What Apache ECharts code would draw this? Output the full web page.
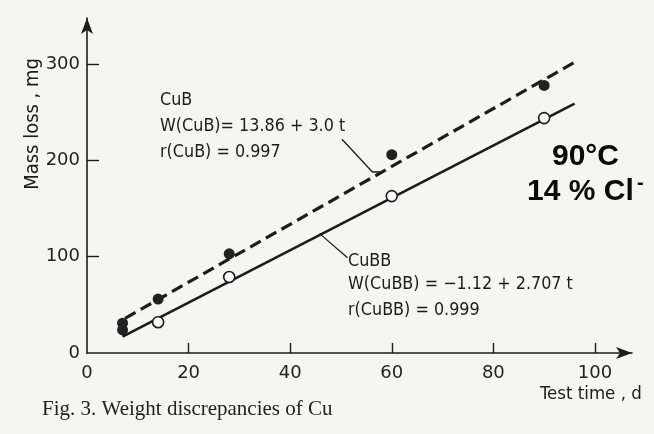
<!DOCTYPE html>
<html>
<head>
<meta charset="utf-8">
<script src="https://cdn.jsdelivr.net/npm/echarts@6/dist/echarts.min.js"></script>
<style>
  html, body { margin: 0; padding: 0; background: #f5f5f3; }
  #chart { width: 654px; height: 434px; }
</style>
</head>
<body>
<div id="chart"></div>
<script>
  // measured points (test time in days, mass loss in mg)
  var cubPoints = [[7, 31], [7, 24], [14, 56], [28, 103], [60, 206], [90, 278]];
  var cubbPoints = [[14, 32], [28, 79], [60, 163], [90, 244]];

  // regression lines, end points
  var cubLine = [[7.5, 36], [96, 302]];
  var cubbLine = [[7, 17], [96, 259]];

  // leader lines from the labels to the fitted lines
  var cubLeader = [[50.2, 222], [56.2, 188], [58.2, 188]];
  var cubbLeader = [[45.8, 124], [51.3, 99]];

  var xTicks = [0, 20, 40, 60, 80, 100];
  var yTicks = [0, 100, 200, 300];

  var ink = '#1c1c1c';
  var thinFont = 'DejaVu Sans Condensed, DejaVu Sans, sans-serif';

  var chart = echarts.init(document.getElementById('chart'));

  function textEl(left, top, str, size) {
    return {
      type: 'text',
      left: left,
      top: top,
      style: {
        text: str,
        fill: ink,
        font: '300 ' + (size || 17.8) + 'px ' + thinFont
      }
    };
  }

  chart.setOption({
    backgroundColor: '#f5f5f3',
    animation: false,
    grid: {
      left: 87,
      right: 22,
      top: 18,
      bottom: 81
    },
    xAxis: {
      type: 'value',
      min: 0,
      max: 107.3,
      splitLine: { show: false },
      axisLine: {
        lineStyle: { color: ink, width: 1.6 },
        symbol: ['none', 'arrow'],
        symbolSize: [9, 16],
        symbolOffset: [0, 0]
      },
      axisTick: {
        inside: true,
        length: 10,
        customValues: xTicks.slice(1),
        lineStyle: { color: ink, width: 1.4 }
      },
      axisLabel: {
        customValues: xTicks,
        margin: 11,
        color: '#222',
        fontFamily: 'DejaVu Sans',
        fontSize: 18
      }
    },
    yAxis: {
      type: 'value',
      min: 0,
      max: 348,
      splitLine: { show: false },
      axisLine: {
        show: true,
        lineStyle: { color: ink, width: 1.6 },
        symbol: ['none', 'arrow'],
        symbolSize: [9, 16],
        symbolOffset: [0, 0]
      },
      axisTick: {
        show: true,
        inside: true,
        length: 12,
        customValues: yTicks.slice(1),
        lineStyle: { color: ink, width: 1.4 }
      },
      axisLabel: {
        customValues: yTicks,
        margin: 7,
        color: '#222',
        fontFamily: 'DejaVu Sans',
        fontSize: 18
      }
    },
    series: [
      {
        name: 'CuB fit',
        type: 'line',
        data: cubLine,
        symbol: 'none',
        lineStyle: { color: ink, width: 3.2, type: [12, 6] },
        z: 2
      },
      {
        name: 'CuBB fit',
        type: 'line',
        data: cubbLine,
        symbol: 'none',
        lineStyle: { color: ink, width: 2.6 },
        z: 2
      },
      {
        name: 'CuB leader',
        type: 'line',
        data: cubLeader,
        symbol: 'none',
        lineStyle: { color: ink, width: 1.3 },
        z: 2
      },
      {
        name: 'CuBB leader',
        type: 'line',
        data: cubbLeader,
        symbol: 'none',
        lineStyle: { color: ink, width: 1.3 },
        z: 2
      },
      {
        name: 'CuB',
        type: 'scatter',
        data: cubPoints,
        symbolSize: 11,
        itemStyle: { color: '#222', opacity: 1 },
        z: 3
      },
      {
        name: 'CuBB',
        type: 'scatter',
        data: cubbPoints,
        symbolSize: 11,
        itemStyle: { color: '#fafafa', borderColor: ink, borderWidth: 1.6, opacity: 1 },
        z: 3
      }
    ],
    graphic: [
      {
        type: 'text',
        left: 23,
        top: 58,
        rotation: Math.PI / 2,
        style: {
          text: 'Mass loss , mg',
          fill: ink,
          font: '300 20px ' + thinFont
        }
      },
      textEl(160, 91, 'CuB'),
      textEl(160, 117, 'W(CuB)= 13.86 + 3.0 t'),
      textEl(160, 143, 'r(CuB) = 0.997'),
      textEl(348, 252, 'CuBB'),
      textEl(348, 275, 'W(CuBB) = \u22121.12 + 2.707 t'),
      textEl(348, 301, 'r(CuBB) = 0.999'),
      textEl(540, 385, 'Test time , d', 18.5),
      {
        type: 'text',
        left: 42,
        top: 399,
        style: {
          text: 'Fig. 3. Weight discrepancies of Cu',
          fill: '#222',
          font: '21px Liberation Serif, serif'
        }
      },
      {
        type: 'text',
        left: 552,
        top: 142,
        style: {
          text: '90\u00b0C',
          fill: '#0a0a0a',
          font: 'bold 30px Liberation Sans, Arial, sans-serif'
        }
      },
      {
        type: 'text',
        left: 527,
        top: 177,
        style: {
          text: '14 % Cl',
          fill: '#0a0a0a',
          font: 'bold 30px Liberation Sans, Arial, sans-serif'
        }
      },
      {
        type: 'text',
        left: 637,
        top: 173,
        style: {
          text: '-',
          fill: '#0a0a0a',
          font: 'bold 20px Liberation Sans, Arial, sans-serif'
        }
      }
    ]
  });
</script>
</body>
</html>
